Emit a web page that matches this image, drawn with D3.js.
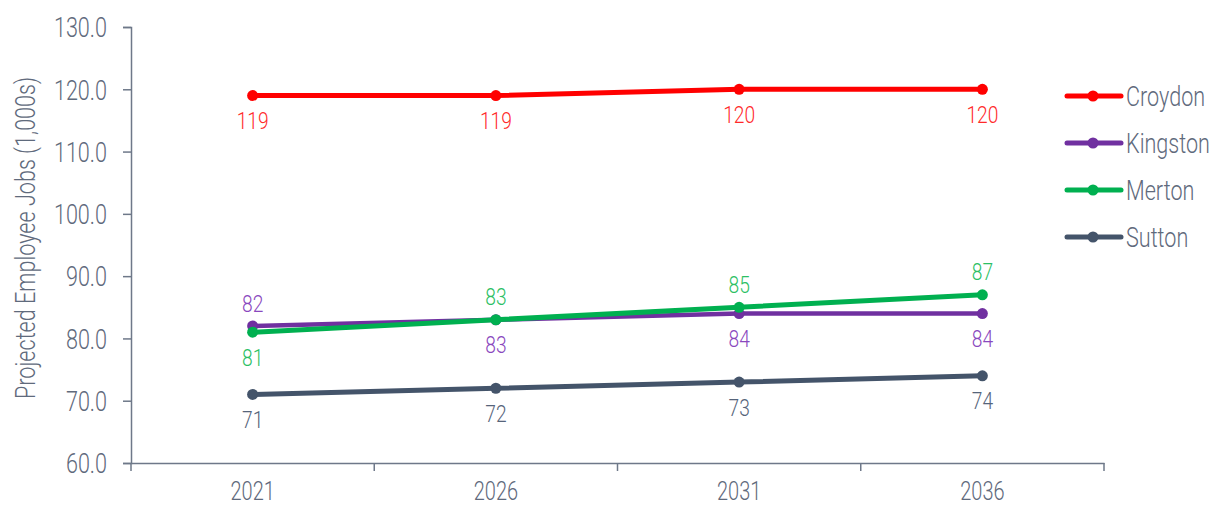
<!DOCTYPE html>
<html><head><meta charset="utf-8">
<script src="https://cdn.jsdelivr.net/npm/d3@7"></script>
<style>
body{margin:0;background:#fff;}
text{font-family:Roboto,"Noto Sans",sans-serif;font-weight:300;}
</style></head><body>
<svg id="c" width="1213" height="507"></svg>
<script>
const years = ["2021","2026","2031","2036"];
const seriesNames = ["Croydon","Kingston","Merton","Sutton"];
const croydon = [119,119,120,120];
const kingston = [82,83,84,84];
const merton = [81,83,85,87];
const sutton = [71,72,73,74];
const yTicks = [60,70,80,90,100,110,120,130];
const colors = ["#FF0000","#7030A0","#00B050","#44546A"];
const labelColors = ["#FF2A2A","#8A48BE","#2CC064","#56647A"];
const labelPos = [
  ["below","below","below","below"],
  ["above","below","below","below"],
  ["below","above","above","above"],
  ["below","below","below","below"]
];
const allSeries = [croydon,kingston,merton,sutton];

(function(){
const svg = d3.select("#c");
const axisColor = "#6E7889", textColor = "#5F6A7C";
const SX = 0.8;
const mLeft = 131, mRight = 1104, mTop = 27, mBottom = 463;

const x = d3.scaleBand().domain(years).range([mLeft,mRight]);
const y = d3.scaleLinear().domain([60,130]).range([mBottom,mTop]);

// y axis
const ya = svg.append("g").attr("transform",`translate(${mLeft},0)`)
  .call(d3.axisLeft(y).tickValues(yTicks).tickSize(8).tickPadding(0).tickFormat(d3.format(".1f")));
ya.select(".domain").attr("stroke",axisColor).attr("stroke-width",1.5);
ya.selectAll(".tick line").attr("stroke",axisColor).attr("stroke-width",1.5);
ya.selectAll(".tick text").attr("x",0).attr("dy","0.36em")
  .attr("transform",`translate(-24,0) scale(${SX},1)`)
  .attr("fill",textColor).style("font-size","27px").style("font-family","Roboto").style("font-weight",300);

// x axis
const xa = svg.append("g").attr("transform",`translate(0,${mBottom})`)
  .call(d3.axisBottom(x).tickSize(0).tickPadding(0));
xa.select(".domain").attr("stroke",axisColor).attr("stroke-width",1.5);
xa.selectAll(".tick text").attr("y",0).attr("dy","0.36em")
  .attr("transform",`translate(0,28) scale(${SX},1)`)
  .attr("fill",textColor).style("font-size","25px").style("font-family","Roboto").style("font-weight",300);
// boundary ticks
const bounds = years.map(d=>x(d)).concat([mRight]);
svg.append("g").selectAll("line").data(bounds).join("line")
  .attr("x1",d=>d).attr("x2",d=>d).attr("y1",mBottom).attr("y2",mBottom+8)
  .attr("stroke",axisColor).attr("stroke-width",1.5);

const cx = d=>x(d)+x.bandwidth()/2;
const line = d3.line().x((d,i)=>cx(years[i])).y(d=>y(d));

allSeries.forEach((vals,si)=>{
  const g = svg.append("g");
  g.append("path").datum(vals).attr("d",line).attr("fill","none")
    .attr("stroke",colors[si]).attr("stroke-width",si===1?4.5:5).attr("stroke-linecap","round");
  g.selectAll("circle").data(vals).join("circle")
    .attr("cx",(d,i)=>cx(years[i])).attr("cy",d=>y(d)).attr("r",5.5).attr("fill",colors[si]);
  g.selectAll("text").data(vals).join("text")
    .attr("text-anchor","middle").attr("dy","0.36em")
    .attr("transform",(d,i)=>`translate(${cx(years[i])},${y(d)+(labelPos[si][i]==="above"?-23:25)}) scale(${SX},1)`)
    .attr("fill",labelColors[si]).style("font-size","24px")
    .text(d=>d3.format("d")(d));
});

// legend
const lg = svg.append("g");
seriesNames.forEach((n,i)=>{
  const yy = 96 + i*47;
  lg.append("line").attr("x1",1067).attr("x2",1121).attr("y1",yy).attr("y2",yy)
    .attr("stroke",colors[i]).attr("stroke-width",5).attr("stroke-linecap","round");
  lg.append("circle").attr("cx",1093).attr("cy",yy).attr("r",5.5).attr("fill",colors[i]);
  lg.append("text").attr("dy","0.36em").attr("transform",`translate(1126,${yy}) scale(${SX},1)`)
    .attr("fill",textColor).style("font-size","27px").text(n);
});

// y title
svg.append("text").attr("text-anchor","middle").attr("dy","0.36em")
  .attr("transform",`translate(25,238) rotate(-90) scale(${SX},1)`)
  .attr("fill",textColor).style("font-size","27px")
  .text("Projected Employee Jobs (1,000s)");
})();
</script>
</body></html>
